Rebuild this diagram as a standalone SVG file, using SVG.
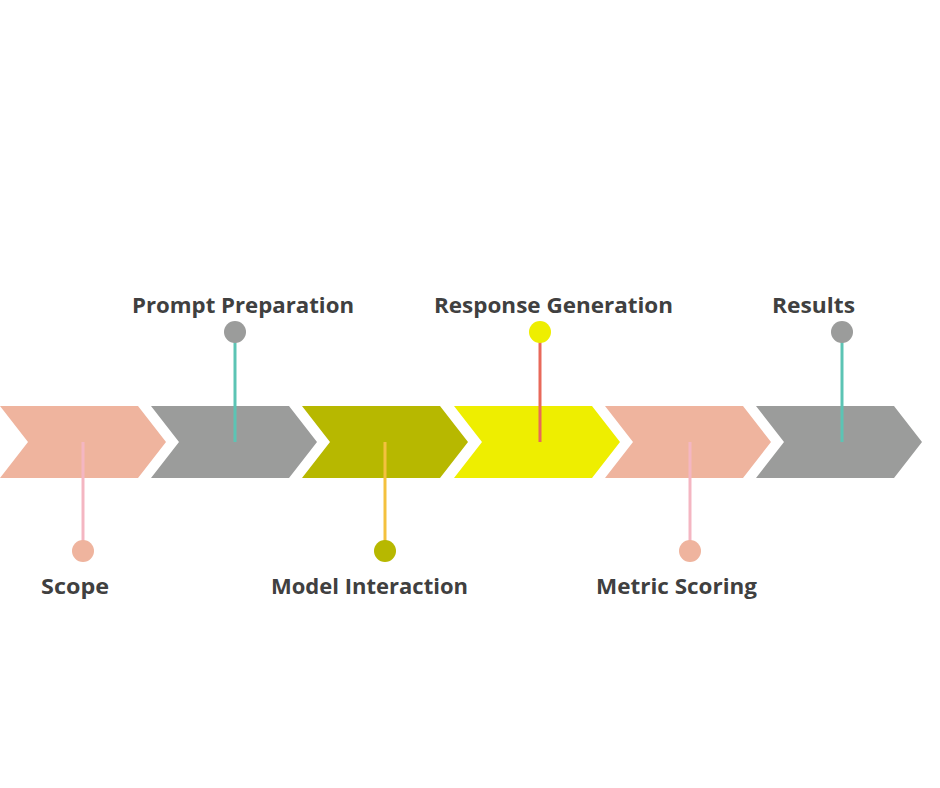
<svg xmlns="http://www.w3.org/2000/svg" width="940" height="788" viewBox="0 0 940 788">
  <style>
    .lbl { font-family: "Open Sans", "Liberation Sans", sans-serif; font-weight: 700; font-size: 21px; fill: #404040; }
    .stem { stroke-width: 3; fill: none; }
  </style>
  <defs>
    <polygon id="chev" points="0,406 138,406 166,442 138,478 0,478 28,442"/>
  </defs>
  <rect width="940" height="788" fill="#ffffff"/>

  <!-- process chevrons -->
  <g id="step-scope">
    <use href="#chev" x="0" fill="#EFB49E"/>
  </g>
  <g id="step-prompt">
    <use href="#chev" x="151" fill="#9B9C9B"/>
  </g>
  <g id="step-model">
    <use href="#chev" x="302" fill="#B7B800"/>
  </g>
  <g id="step-response">
    <use href="#chev" x="454" fill="#EEEE00"/>
  </g>
  <g id="step-metric">
    <use href="#chev" x="605" fill="#EFB49E"/>
  </g>
  <g id="step-results">
    <use href="#chev" x="756" fill="#9B9C9B"/>
  </g>

  <!-- stems and markers -->
  <g id="connectors">
    <line class="stem" x1="83" y1="442" x2="83" y2="545" stroke="#F4B6C2"/>
    <line class="stem" x1="235" y1="442" x2="235" y2="338" stroke="#5CC4B4"/>
    <line class="stem" x1="385" y1="442" x2="385" y2="545" stroke="#F4C13E"/>
    <line class="stem" x1="540" y1="442" x2="540" y2="338" stroke="#E8695A"/>
    <line class="stem" x1="690" y1="442" x2="690" y2="545" stroke="#F4B6C2"/>
    <line class="stem" x1="842" y1="442" x2="842" y2="338" stroke="#5CC4B4"/>
  </g>

  <g id="label-scope">
    <circle cx="83" cy="551" r="11" fill="#EFB49E"/>
    <text class="lbl" x="41" y="594" textLength="68" lengthAdjust="spacingAndGlyphs">Scope</text>
  </g>
  <g id="label-prompt">
    <circle cx="235" cy="332" r="11" fill="#9B9C9B"/>
    <text class="lbl" x="132" y="313" textLength="222" lengthAdjust="spacingAndGlyphs">Prompt Preparation</text>
  </g>
  <g id="label-model">
    <circle cx="385" cy="551" r="11" fill="#B7B800"/>
    <text class="lbl" x="271" y="594" textLength="197" lengthAdjust="spacingAndGlyphs">Model Interaction</text>
  </g>
  <g id="label-response">
    <circle cx="540" cy="332" r="11" fill="#EEEE00"/>
    <text class="lbl" x="434" y="313" textLength="239" lengthAdjust="spacingAndGlyphs">Response Generation</text>
  </g>
  <g id="label-metric">
    <circle cx="690" cy="551" r="11" fill="#EFB49E"/>
    <text class="lbl" x="596" y="594" textLength="161" lengthAdjust="spacingAndGlyphs">Metric Scoring</text>
  </g>
  <g id="label-results">
    <circle cx="842" cy="332" r="11" fill="#9B9C9B"/>
    <text class="lbl" x="772" y="313" textLength="83" lengthAdjust="spacingAndGlyphs">Results</text>
  </g>
</svg>
